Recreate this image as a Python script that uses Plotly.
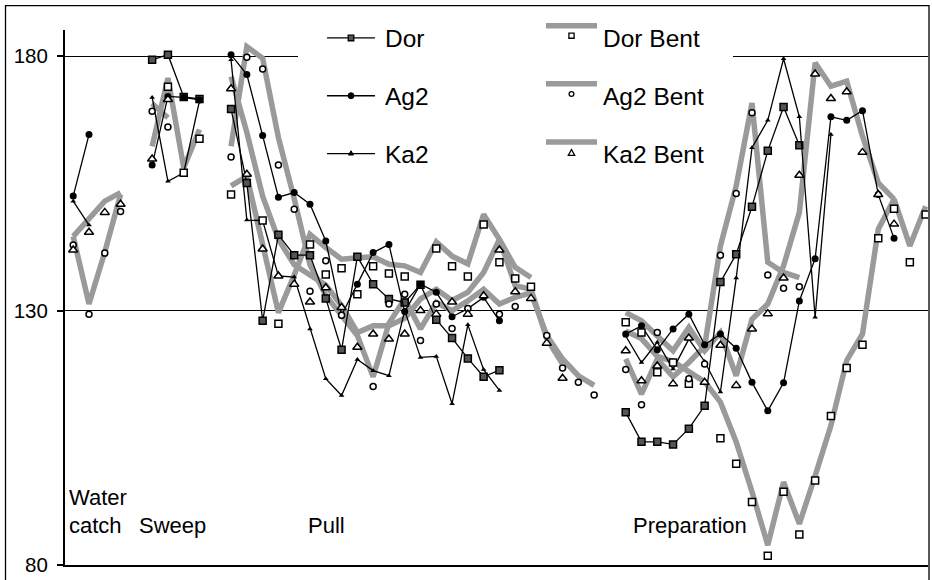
import plotly.graph_objects as go

# ---------------- data (category index k; phases separated by gaps) ----------------
X_WC = [0, 1, 2, 3]
X_SW = [5, 6, 7, 8]
X_PU = list(range(10, 34))
X_PR = list(range(35, 55))

DOR_SW = [179.3, 180.3, 172.0, 171.6]
DOR_PU = [169.6, 155.1, 128.0, 144.9, 140.9, 140.9, 132.4, 122.3, 140.6, 135.2, 132.3, 131.6,
          135.1, 128.2, 124.6, 120.6, 117.0, 118.3, None, None, None, None, None, None]
DOR_PR = [110.0, 104.2, 104.2, 103.7, 106.8, 111.3, 135.6, 141.1, 150.4, 161.4, 170.0, 162.5,
          None, None, None, None, None, None, None, None]

AG2_WC = [152.5, 164.6, None, None]
AG2_SW = [158.6, 172.1, 171.9, 171.4]
AG2_PU = [180.3, 176.4, 164.4, 152.3, 153.2, 150.9, 143.7, 129.1, 135.2, 141.4, 143.0, 129.8,
          135.2, 133.6, 128.8, 130.4, 132.6, 128.0, None, None, None, None, None, None]
AG2_PR = [125.4, 127.0, 122.3, 126.4, 129.3, 123.3, 125.4, 122.6, 115.9, 110.3, 115.8, 131.9,
          140.2, 168.1, 167.4, 169.3, 152.8, 144.2, None, None]

KA2_WC = [151.5, 146.8, None, None]
KA2_SW = [171.9, 155.4, 157.1, 171.2]
KA2_PU = [179.3, 147.8, 147.7, 136.8, 136.6, 126.4, 116.6, 113.3, 120.4, 118.2, 117.2, 130.0,
          120.8, 121.0, 111.7, 127.2, 118.4, 114.3, None, None, None, None, None, None]
KA2_PR = [125.0, 119.8, 123.8, 118.5, 124.4, 120.0, 114.0, 136.4, 162.0, 167.4, 179.5, 168.1,
          128.7, 164.6, None, None, None, None, None, None]

DORB_SW = [None, 174.0, 157.1, 163.8]
DORB_PU = [152.8, None, 147.7, 127.4, None, 143.0, 137.1, 138.3, 133.2, 138.7, 137.3, 136.7,
           None, 142.2, 138.7, 136.7, 146.9, 139.5, 136.3, 134.7, None, None, None, None]
DORB_PR = [127.7, 125.7, 117.9, 119.8, 115.6, None, 104.9, 99.9, 92.4, 81.8, 94.4, 86.0,
           96.6, 109.3, 118.7, 123.3, 144.2, 150.0, 139.5, 148.9]

AG2B_WC = [142.9, 129.3, 141.3, 149.5]
AG2B_SW = [169.2, 166.1, None, None]
AG2B_PU = [160.2, 179.8, 177.5, 158.6, 149.9, 133.8, 139.8, 129.1, None, 115.1, 131.3, 133.2,
           124.1, 131.3, 126.5, 130.4, None, 129.3, 130.8, None, 125.1, 118.7, 115.9, 113.4]
AG2B_PR = [118.4, 111.5, 125.7, None, 116.6, 119.5, 140.9, 153.0, 168.9, 137.0, 134.4, 134.7,
           None, None, None, None, None, None, None, None]

KA2B_WC = [141.9, 145.4, 149.3, 150.9]
KA2B_SW = [159.8, 171.5, None, None]
KA2B_PU = [173.6, 156.8, 142.1, 136.8, 135.2, 131.7, 134.5, 130.6, 122.8, 125.4, 124.4, 125.4,
           130.0, 129.3, 131.7, 129.3, 132.9, 141.9, 133.7, 132.4, 123.6, 116.7, None, None]
KA2B_PR = [122.1, 116.2, 119.1, 115.6, 124.6, 115.9, 123.2, 115.3, 126.4, 129.4, 136.4, 156.6,
           176.5, 171.7, 173.0, 161.1, 152.8, 147.0, None, None]

# thick grey "Bent" curves
DORB_LINE_SW = [162.3, 175.7, 158.1, 165.6]
DORB_LINE_PU = [154.5, 156.4, 143.0, 129.6, 137.0, 145.0, 142.4, 140.1, 140.4, 140.6, 139.1, 138.8,
                137.5, 143.5, 140.7, 139.2, 148.9, 144.0, 138.5, 136.5, None, None, None, None]
DORB_LINE_PR = [126.0, 124.5, 121.0, 120.0, 118.0, 116.0, 112.0, 104.2, 94.4, 83.9, 96.3, 88.1,
                97.5, 107.4, 120.2, 125.4, 146.0, 151.9, 142.7, 150.5]

AG2B_LINE_WC = [144.6, 131.3, 141.5, 152.8]
AG2B_LINE_SW = [170.7, 167.9, None, None]
AG2B_LINE_PU = [162.3, 181.9, 179.6, 164.0, 152.0, 139.0, 133.0, 129.0, 125.1, 117.0, 127.5, 132.3,
                126.4, 131.6, 130.0, 131.9, 134.2, 131.3, 132.6, 133.5, 125.1, 120.5, 117.2, 115.3]
AG2B_LINE_PR = [120.5, 113.6, 120.5, 117.0, 119.8, 123.0, 142.7, 154.5, 170.8, 139.5, 137.5, 136.5,
                None, None, None, None, None, None, None, None]

KA2B_LINE_WC = [144.6, 147.9, 151.5, 153.2]
KA2B_LINE_PU = [176.0, 165.0, 152.5, 144.0, 139.0, 137.0, 135.0, 131.0, 125.7, 127.0, 127.0, 128.5,
                132.3, 134.2, 132.0, 133.6, 137.5, 144.0, 134.9, 134.2, 124.5, 119.5, None, None]
KA2B_LINE_PR = [129.6, 128.0, 125.0, 122.1, 126.7, 122.1, 125.7, 117.2, 128.3, 131.3, 138.8, 149.3,
                178.7, 174.1, 175.1, 164.3, 155.1, 151.9, None, None]

Y_TICKS = [80, 130, 180]
PHASES = ["Water", "catch", "Sweep", "Pull", "Preparation"]
NAMES = ["Dor", "Ag2", "Ka2", "Dor Bent", "Ag2 Bent", "Ka2 Bent"]


def series(wc=None, sw=None, pu=None, pr=None):
    parts = [(X_WC, wc), (X_SW, sw), (X_PU, pu), (X_PR, pr)]
    xs, ys = [], []
    for i, (xx, yy) in enumerate(parts):
        if yy is None:
            yy = [None] * len(xx)
        xs += xx
        ys += yy
        if i < 3:
            xs.append(xx[-1] + 1)
            ys.append(None)
    return xs, ys


GRAY = "#9a9a9a"
FONT = "Liberation Sans, Arial, sans-serif"

fig = go.Figure()

# grey thick curves
for d in [series(None, DORB_LINE_SW, DORB_LINE_PU, DORB_LINE_PR),
          series(AG2B_LINE_WC, AG2B_LINE_SW, AG2B_LINE_PU, AG2B_LINE_PR),
          series(KA2B_LINE_WC, None, KA2B_LINE_PU, KA2B_LINE_PR)]:
    fig.add_trace(go.Scatter(x=d[0], y=d[1], mode="lines",
                             line=dict(color=GRAY, width=5.5), hoverinfo="skip"))

# black series
x, y = series(None, DOR_SW, DOR_PU, DOR_PR)
fig.add_trace(go.Scatter(x=x, y=y, mode="lines+markers", name=NAMES[0],
                         line=dict(color="black", width=1.3),
                         marker=dict(symbol="square", size=7, color="#555555",
                                     line=dict(color="black", width=1.5))))
x, y = series(AG2_WC, AG2_SW, AG2_PU, AG2_PR)
fig.add_trace(go.Scatter(x=x, y=y, mode="lines+markers", name=NAMES[1],
                         line=dict(color="black", width=1.3),
                         marker=dict(symbol="circle", size=7, color="black")))
x, y = series(KA2_WC, KA2_SW, KA2_PU, KA2_PR)
fig.add_trace(go.Scatter(x=x, y=y, mode="lines+markers", name=NAMES[2],
                         line=dict(color="black", width=1.3),
                         marker=dict(symbol="triangle-up", size=5, color="black")))

# hollow Bent markers
x, y = series(None, DORB_SW, DORB_PU, DORB_PR)
fig.add_trace(go.Scatter(x=x, y=y, mode="markers", name=NAMES[3],
                         marker=dict(symbol="square", size=7, color="white",
                                     line=dict(color="black", width=1.5))))
x, y = series(AG2B_WC, AG2B_SW, AG2B_PU, AG2B_PR)
fig.add_trace(go.Scatter(x=x, y=y, mode="markers", name=NAMES[4],
                         marker=dict(symbol="circle", size=6, color="white",
                                     line=dict(color="black", width=1.5))))
x, y = series(KA2B_WC, KA2B_SW, KA2B_PU, KA2B_PR)
fig.add_trace(go.Scatter(x=x, y=y, mode="markers", name=NAMES[5],
                         marker=dict(symbol="triangle-up", size=8, color="white",
                                     line=dict(color="black", width=1.5))))

# ---------------- layout helpers (pixel -> paper) ----------------
L, R, T, B = 65, 928, 30, 567


def xp(px):
    return (px - L) / (R - L)


def yp(py):
    return (B - py) / (B - T)


shapes = []
# outer chart border (bottom edge lies below the visible page)
shapes.append(dict(type="rect", xref="paper", yref="paper", x0=xp(5.5), x1=xp(929),
                   y0=yp(584), y1=yp(5.5), line=dict(color="black", width=1.3),
                   fillcolor="rgba(0,0,0,0)", layer="above"))
# legend background
shapes.append(dict(type="rect", xref="paper", yref="paper", x0=xp(298), x1=xp(733),
                   y0=yp(172), y1=yp(12), line=dict(width=0), fillcolor="white", layer="above"))

rows = [38, 96, 154]
for ry in rows:
    shapes.append(dict(type="line", xref="paper", yref="paper", x0=xp(327), x1=xp(375),
                       y0=yp(ry), y1=yp(ry), line=dict(color="black", width=1.3), layer="above"))
gray_rows = [25.7, 84, 142.3]
for ry in gray_rows:
    shapes.append(dict(type="line", xref="paper", yref="paper", x0=xp(546), x1=xp(597),
                       y0=yp(ry), y1=yp(ry), line=dict(color=GRAY, width=5.5), layer="above"))

# legend symbols, column 1
cx = 351
shapes.append(dict(type="rect", xref="paper", yref="paper", x0=xp(cx - 2.8), x1=xp(cx + 2.8),
                   y0=yp(38 + 2.8), y1=yp(38 - 2.8), fillcolor="#555555",
                   line=dict(color="black", width=1.3), layer="above"))
shapes.append(dict(type="circle", xref="paper", yref="paper", x0=xp(cx - 3), x1=xp(cx + 3),
                   y0=yp(96 + 3), y1=yp(96 - 3), fillcolor="black",
                   line=dict(color="black", width=1), layer="above"))
shapes.append(dict(type="path", xref="paper", yref="paper",
                   path=f"M {xp(cx-2.5)},{yp(155.5)} L {xp(cx+2.5)},{yp(155.5)} L {xp(cx)},{yp(151.2)} Z",
                   fillcolor="black", line=dict(color="black", width=1), layer="above"))
# legend symbols, column 2
cx2 = 571.5
shapes.append(dict(type="rect", xref="paper", yref="paper", x0=xp(cx2 - 2.6), x1=xp(cx2 + 2.6),
                   y0=yp(35.7 + 2.6), y1=yp(35.7 - 2.6), fillcolor="white",
                   line=dict(color="black", width=1.3), layer="above"))
shapes.append(dict(type="circle", xref="paper", yref="paper", x0=xp(cx2 - 2.4), x1=xp(cx2 + 2.4),
                   y0=yp(94.3 + 2.4), y1=yp(94.3 - 2.4), fillcolor="white",
                   line=dict(color="black", width=1.3), layer="above"))
shapes.append(dict(type="path", xref="paper", yref="paper",
                   path=f"M {xp(cx2-3.2)},{yp(155.8)} L {xp(cx2+3.2)},{yp(155.8)} L {xp(cx2)},{yp(150)} Z",
                   fillcolor="white", line=dict(color="black", width=1.3), layer="above"))

annotations = []
leg_text = [(383, 38.7, NAMES[0]), (383, 97, NAMES[1]), (383, 154.7, NAMES[2]),
            (601, 38.7, NAMES[3]), (601, 97, NAMES[4]), (601, 154.7, NAMES[5])]
for px, py, t in leg_text:
    annotations.append(dict(xref="paper", yref="paper", x=xp(px), y=yp(py), text=t,
                            showarrow=False, xanchor="left", yanchor="middle",
                            font=dict(family=FONT, size=24.5, color="black")))
phase_pos = [(67, 499), (67, 527.5), (137, 527.5), (306, 527.5), (631, 527.5)]
for (px, py), t in zip(phase_pos, PHASES):
    annotations.append(dict(xref="paper", yref="paper", x=xp(px), y=yp(py), text=t,
                            showarrow=False, xanchor="left", yanchor="middle",
                            font=dict(family=FONT, size=22, color="black")))

fig.update_layout(
    width=932, height=580,
    margin=dict(l=L, r=932 - R, t=T, b=580 - B, pad=0),
    paper_bgcolor="white", plot_bgcolor="white",
    showlegend=False,
    shapes=shapes, annotations=annotations,
    xaxis=dict(range=[-0.52, 54.15], showgrid=False, zeroline=False, showticklabels=False,
               ticks="", showline=True, linecolor="black", linewidth=2),
    yaxis=dict(range=[80, 185.15], tickvals=Y_TICKS, ticktext=[str(v) for v in Y_TICKS],
               showgrid=True, gridcolor="black", gridwidth=1.2, zeroline=False,
               showline=True, linecolor="black", linewidth=2,
               ticks="outside", ticklen=6, tickwidth=1.5, tickcolor="black",
               ticklabelstandoff=5,
               tickfont=dict(family=FONT, size=20.5, color="black")),
)

fig.write_html("out.html", config={"displayModeBar": False},
               post_script="document.body.style.margin='0';document.body.style.overflow='hidden';")
